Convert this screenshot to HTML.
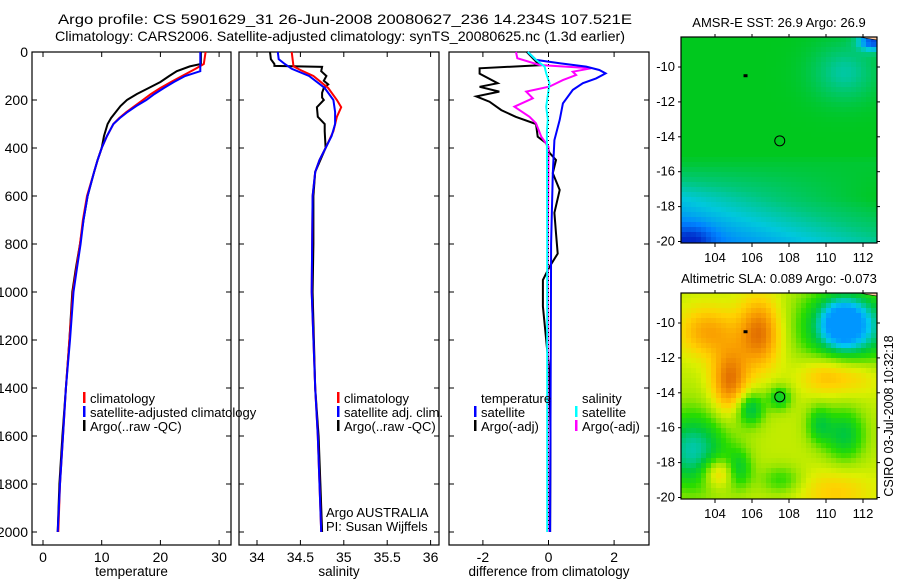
<!DOCTYPE html>
<html><head><meta charset="utf-8"><style>
body{margin:0;background:#fff;}
svg text{font-family:"Liberation Sans",sans-serif;fill:#000;}
</style></head><body>
<svg id="s" width="900" height="580" viewBox="0 0 900 580" xmlns="http://www.w3.org/2000/svg">
<text x="58" y="24" font-size="14" textLength="574" lengthAdjust="spacingAndGlyphs">Argo profile: CS 5901629_31 26-Jun-2008 20080627_236 14.234S 107.521E</text>
<text x="55" y="41" font-size="14" textLength="570" lengthAdjust="spacingAndGlyphs">Climatology: CARS2006. Satellite-adjusted climatology: synTS_20080625.nc (1.3d earlier)</text>
<g id="plots"></g>
<text transform="translate(893,416) rotate(-90)" font-size="12.5" text-anchor="middle">CSIRO 03-Jul-2008 10:32:18</text>
</svg>
<script>
const NS="http://www.w3.org/2000/svg";
const root=document.getElementById('plots');
function el(tag,attrs,parent,txt){const e=document.createElementNS(NS,tag);for(const k in attrs)e.setAttribute(k,attrs[k]);if(txt!==undefined)e.textContent=txt;(parent||root).appendChild(e);return e;}

// ---- data ----
const depthTicks=[0,200,400,600,800,1000,1200,1400,1600,1800,2000];
const tempTicks=[0,10,20,30];
const salTicks=[34,34.5,35,35.5,36];
const salTickLabels=["34","34.5","35","35.5","36"];
const diffTicks=[-2,0,2];
const tempClimDepth=[0,50,70,100,125,150,175,200,225,250,275,300,350,400,450,500,600,700,800,900,1000,1200,1400,1600,1800,2000];
const tempClim=[27.7,27.4,26,23.7,21.8,20,18.4,17,15.6,14.2,13,12,10.9,10,9.3,8.7,7.5,6.8,6.3,5.7,5.1,4.5,3.9,3.4,2.9,2.6];
const tempSatDepth=[0,80,100,125,150,175,200,225,250,275,300,350,400,450,500,600,700,800,900,1000,1200,1400,1600,1800,2000];
const tempSat=[26.8,26.8,24.2,22.3,20.6,19,17.6,15.9,14.4,13.1,12,10.9,10,9.3,8.7,7.6,6.9,6.4,5.8,5.2,4.6,3.9,3.4,2.9,2.5];
const tempArgoDepth=[0,50,60,80,100,125,150,175,200,225,250,275,300,350,400,450,500,600,700,800,900,1000,1200,1400,1600,1800,2000];
const tempArgo=[26.9,26.9,25,22.8,21.5,20,18,16,14.3,13.2,12.4,11.6,11,10.4,10,9.3,8.7,7.6,6.9,6.3,5.6,5,4.5,3.9,3.3,2.8,2.5];
const salClimDepth=[0,60,75,100,150,200,230,270,330,400,450,500,600,1000,1400,1600,1800,2000];
const salClim=[34.40,34.42,34.5,34.65,34.82,34.92,34.97,34.92,34.88,34.79,34.72,34.67,34.64,34.63,34.67,34.70,34.72,34.74];
const salSatDepth=[0,30,50,70,100,150,200,250,300,350,400,450,500,600,1000,1400,1600,1800,2000];
const salSat=[34.24,34.25,34.32,34.4,34.6,34.78,34.88,34.9,34.9,34.86,34.79,34.72,34.67,34.64,34.63,34.67,34.70,34.72,34.74];
const salArgoDepth=[0,30,50,58,62,80,100,120,135,150,170,190,200,230,270,300,330,400,500,600,800,1000,1400,1600,1800,2000];
const salArgo=[34.15,34.16,34.2,34.2,34.75,34.74,34.8,34.77,34.82,34.77,34.75,34.75,34.77,34.69,34.7,34.78,34.78,34.79,34.67,34.65,34.65,34.64,34.67,34.71,34.73,34.75];
const dTempArgoDepth=[0,55,68,90,130,145,165,185,207,242,270,300,353,380,420,450,505,575,670,755,840,895,950,1060,1200,1340,1600,2000];
const dTempArgo=[-0.66,-0.27,-2.1,-2.1,-1.55,-2.1,-1.5,-2.2,-1.8,-1.44,-1.0,-0.38,-0.33,-0.07,0.03,0.23,0.13,0.34,0.18,0.23,0.28,0.03,-0.17,-0.17,-0.07,0.03,0.06,0.05];
const dTempSatDepth=[0,33,47,61,75,89,110,130,158,214,283,367,505,800,1200,2000];
const dTempSat=[-0.63,-0.38,0.34,1.15,1.55,1.74,1.45,1.05,0.74,0.44,0.34,0.18,0.13,0.08,0.07,0.05];
const dSalArgoDepth=[0,26,54,68,82,96,117,144,165,193,228,270,297,353,395,800,2000];
const dSalArgo=[-0.99,-0.95,-0.27,1.3,0.74,0.84,0.44,0.03,-0.68,-0.48,-1.04,-0.58,-0.38,-0.22,0.0,-0.02,-0.02];
const dSalSatDepth=[0,33,61,89,130,228,280,330,800,2000];
const dSalSat=[-0.63,-0.38,-0.12,-0.07,0.03,-0.07,-0.02,-0.05,-0.04,-0.04];

// ---- axes ----
const Y0=52,Y1=545;
const yScale=d=>Y0+d*0.24;
const panels=[
 {name:'temperature',x0:32,x1:231,sx:v=>43+v*5.87,ticks:tempTicks,labels:tempTicks.map(String),ylabels:true},
 {name:'salinity',x0:239,x1:439,sx:v=>257+(v-34)*86.8,ticks:salTicks,labels:salTickLabels},
 {name:'difference from climatology',x0:449,x1:649,sx:v=>548.5+v*32.8,ticks:diffTicks,labels:diffTicks.map(String)}
];
function line(p,ds,vs,color,name){
  const pts=ds.map((d,i)=>p.sx(vs[i]).toFixed(1)+','+yScale(d).toFixed(1)).join(' ');
  const e=el('polyline',{points:pts,fill:'none',stroke:color,'stroke-width':2});
  
  
}
panels.forEach((p,pi)=>{
  const g=el('g',{});
  
  
  const fr=el('rect',{x:p.x0,y:Y0,width:p.x1-p.x0,height:Y1-Y0,fill:'none',stroke:'#000','stroke-width':1.2},g);
  
  
  depthTicks.forEach(d=>{
    const y=yScale(d);
    el('line',{x1:p.x0,x2:p.x0+5,y1:y,y2:y,stroke:'#000'},g);
    el('line',{x1:p.x1-5,x2:p.x1,y1:y,y2:y,stroke:'#000'},g);
    if(p.ylabels){const t=el('text',{x:p.x0-4,y:y+5,'font-size':14,'text-anchor':'end'},g,String(d));
      
      }
  });
  p.ticks.forEach((v,i)=>{
    const x=p.sx(v);
    el('line',{x1:x,x2:x,y1:Y1,y2:Y1-5,stroke:'#000'},g);
    el('line',{x1:x,x2:x,y1:Y0,y2:Y0+5,stroke:'#000'},g);
    const t=el('text',{x:x,y:Y1+17,'font-size':14,'text-anchor':'middle'},g,p.labels[i]);
    
    
  });
  const xl=el('text',{x:(p.x0+p.x1)/2,y:576,'font-size':13.5,'text-anchor':'middle'},g,p.name);
  
  
});
const [P1,P2,P3]=panels;
line(P1,tempArgoDepth,tempArgo,'#000','temp-argo-line');
line(P1,tempClimDepth,tempClim,'#f00','temp-climatology-line');
line(P1,tempSatDepth,tempSat,'#00f','temp-satellite-line');
line(P2,salArgoDepth,salArgo,'#000','sal-argo-line');
line(P2,salClimDepth,salClim,'#f00','sal-climatology-line');
line(P2,salSatDepth,salSat,'#00f','sal-satellite-line');
line(P3,dTempArgoDepth,dTempArgo,'#000','dtemp-argo-line');
line(P3,dSalArgoDepth,dSalArgo,'#f0f','dsal-argo-line');
line(P3,dTempSatDepth,dTempSat,'#00f','dtemp-satellite-line');
line(P3,dSalSatDepth,dSalSat,'#0ff','dsal-satellite-line');
el('line',{x1:548.5,x2:548.5,y1:yScale(0),y2:yScale(2000),stroke:'#000','stroke-dasharray':'1,3','stroke-width':1});

function legend(x,y,items,name){
  const g=el('g',{});
  
  
  items.forEach((it,i)=>{
    const yy=y+i*14;
    if(it[1])el('rect',{x:x,y:yy-11,width:2.5,height:11,fill:it[1]},g);
    el('text',{x:x+7,y:yy,'font-size':13},g,it[0]);
  });
}
legend(83,403,[['climatology','#f00'],['satellite-adjusted climatology','#00f'],['Argo(..raw -QC)','#000']],'temp-legend');
legend(337,403,[['climatology','#f00'],['satellite adj. clim.','#00f'],['Argo(..raw -QC)','#000']],'sal-legend');
legend(474,403,[['temperature',null],['satellite','#00f'],['Argo(-adj)','#000']],'dtemp-legend');
legend(575,403,[['salinity',null],['satellite','#0ff'],['Argo(-adj)','#f0f']],'dsal-legend');
const cr=el('text',{x:326,y:517,'font-size':13},root,'Argo AUSTRALIA');


const pi2=el('text',{x:326,y:531,'font-size':13},root,'PI: Susan Wijffels');



// ---- maps ----
const mapLonTicks=[104,106,108,110,112];
const mapLatTicks=[-10,-12,-14,-16,-18,-20];
function lerpC(stops,v){
  v=Math.max(stops[0][0],Math.min(stops[stops.length-1][0],v));
  for(let i=0;i<stops.length-1;i++){const a=stops[i],b=stops[i+1];if(v<=b[0]){const t=(v-a[0])/(b[0]-a[0]);
    return 'rgb('+[0,1,2].map(k=>Math.round(a[1][k]+(b[1][k]-a[1][k])*t)).join(',')+')';}}
}
const G=(lon,lat,cx,cy,sx,sy)=>Math.exp(-((lon-cx)**2/(2*sx*sx)+(lat-cy)**2/(2*sy*sy)));
const sstStops=[[0,[0,40,200]],[0.2,[0,130,255]],[0.33,[0,200,220]],[0.45,[0,200,120]],[0.6,[0,200,30]],[0.7,[30,220,0]]];
const slaStops=[[0.1,[0,150,255]],[0.2,[0,200,240]],[0.33,[0,200,60]],[0.42,[40,220,0]],[0.5,[150,230,0]],[0.58,[220,240,0]],[0.66,[255,210,0]],[0.76,[250,160,0]],[0.88,[220,100,0]]];
function sst(lon,lat){
  let f=0.6-0.07*Math.max(0,Math.min(5,-lat-15));
  if(lat<-15.5)f+=0.025*(lon-106)*Math.min(1,(-lat-15.5)/2);
  f-=0.2*G(lon,lat,111,-10.3,1.3,1.2);
  f-=0.5*G(lon,lat,112.6,-8.5,0.6,0.4);
  f-=0.2*G(lon,lat,102.7,-20,0.8,0.6);
  return f;
}
function sla(lon,lat){
  let f=0.55;
  f+=0.3*G(lon,lat,106.4,-10.6,0.8,1.4);
  f+=0.3*G(lon,lat,104.8,-13.3,0.7,1.3);
  f+=0.2*G(lon,lat,103.6,-10.5,1.1,1.0);
  f+=0.17*G(lon,lat,110,-13,1.0,0.8);
  f+=0.1*G(lon,lat,111.8,-13,0.9,0.8);
  f-=0.4*G(lon,lat,111.2,-10.2,1.7,1.5);
  f-=0.25*G(lon,lat,110.9,-10,0.7,0.8);
  f-=0.25*G(lon,lat,105.9,-14.9,0.55,0.7);
  f-=0.2*G(lon,lat,107.5,-14.3,0.45,0.5);
  f-=0.22*G(lon,lat,111,-16.4,0.8,1.1);
  f-=0.17*G(lon,lat,109.6,-15.8,0.5,0.8);
  f-=0.3*G(lon,lat,102.8,-17.3,1.4,1.6);
  f+=0.2*G(lon,lat,104.2,-18.6,0.6,0.6);
  f-=0.17*G(lon,lat,105.3,-18.4,0.5,0.8);
  f-=0.13*G(lon,lat,107.6,-19,0.8,0.6);
  f+=0.12*G(lon,lat,110.5,-19.7,1.4,0.9);
  return f;
}
function map(top,title,fn,stops,name){
  const x0=681,x1=877,y0=top,y1=top+206;
  const lonX=lon=>715+(lon-104)*18.5;
  const latY=lat=>y0+30+(-10-lat)*17.45;
  const g=el('g',{});
  
  
  const cell=5;
  for(let x=x0;x<x1;x+=cell)for(let y=y0;y<y1;y+=cell){
    const lon=104+(x+cell/2-715)/18.5, lat=-10-(y+cell/2-y0-30)/17.45;
    el('rect',{x:x,y:y,width:Math.min(cell,x1-x)+0.3,height:Math.min(cell,y1-y)+0.3,fill:lerpC(stops,fn(lon,lat))},g);
  }
  el('polygon',{points:`${x1-18},${y0} ${x1},${y0} ${x1},${y0+3}`,fill:'#ffc8a0',stroke:'#000','stroke-width':0.6},g);
  el('rect',{x:lonX(105.65)-2,y:latY(-10.5)-1.5,width:4,height:3,fill:'#000'},g);
  el('circle',{cx:lonX(107.5),cy:latY(-14.23),r:5,fill:'none',stroke:'#000','stroke-width':1},g);
  el('rect',{x:x0,y:y0,width:x1-x0,height:y1-y0,fill:'none',stroke:'#000','stroke-width':1.2},g);
  mapLonTicks.forEach(l=>{const x=lonX(l);el('line',{x1:x,x2:x,y1:y1,y2:y1+4,stroke:'#000'},g);
    el('line',{x1:x,x2:x,y1:y0,y2:y0-3,stroke:'#000'},g);
    el('text',{x:x,y:y1+19,'font-size':13,'text-anchor':'middle'},g,String(l));});
  mapLatTicks.forEach(l=>{const y=latY(l);el('line',{x1:x0-3,x2:x0,y1:y,y2:y,stroke:'#000'},g);
    el('line',{x1:x1,x2:x1+3,y1:y,y2:y,stroke:'#000'},g);
    el('text',{x:x0-6,y:y+4,'font-size':13,'text-anchor':'end'},g,String(l));});
  const t=el('text',{x:(x0+x1)/2,y:y0-10,'font-size':13,'text-anchor':'middle'},g,title);
  
  
}
map(37,'AMSR-E SST: 26.9 Argo: 26.9',sst,sstStops,'sst-map');
map(293,'Altimetric SLA: 0.089 Argo: -0.073',sla,slaStops,'sla-map');
</script>
</body></html>
